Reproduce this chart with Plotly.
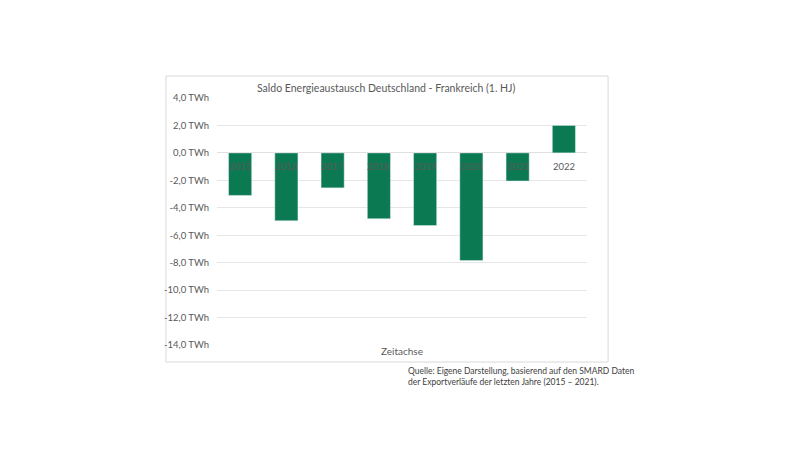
import plotly.graph_objects as go

# Data (TWh, first half-year)
years = ['2015', '2016', '2017', '2018', '2019', '2020', '2021', '2022']
saldo = [-3.1, -4.95, -2.55, -4.8, -5.3, -7.85, -2.05, 2.0]
tick_vals = [4, 2, 0, -2, -4, -6, -8, -10, -12, -14]
tick_text = [f"{v:.1f}".replace('.', ',') + " TWh" for v in tick_vals]

bar_color = '#0B7A52'
text_color = '#595959'
font_family = 'Lato, Open Sans, sans-serif'

fig = go.Figure()
fig.add_trace(go.Bar(x=years, y=saldo, marker_color=bar_color, width=0.5,
                     hoverinfo='x+y'))

# Year labels sit on the zero line, like an Excel category axis
# (numeric x = category index, so '2015' is not read as position 2015)
for i, yr in enumerate(years):
    fig.add_annotation(x=i, y=0, text=yr, showarrow=False, yanchor='top', yshift=-6,
                       font=dict(size=9.5, color=text_color, family=font_family))

fig.add_annotation(text='Saldo Energieaustausch Deutschland - Frankreich (1. HJ)',
                   xref='paper', yref='paper', x=0.457, y=1.04, yanchor='middle',
                   showarrow=False, font=dict(size=10.5, color=text_color, family=font_family))

fig.add_annotation(text='Quelle: Eigene Darstellung, basierend auf den SMARD Daten<br>'
                        'der Exportverläufe der letzten Jahre (2015 – 2021).',
                   xref='paper', yref='paper', x=0.510, y=-0.078, xanchor='left', yanchor='top',
                   align='left', showarrow=False,
                   font=dict(size=8.5, color='#404040', family=font_family))

# Chart frame
fig.add_shape(type='rect', xref='paper', yref='paper', x0=-0.138, x1=1.057, y0=-0.069, y1=1.089,
              line=dict(color='#D9D9D9', width=1), fillcolor='rgba(0,0,0,0)', layer='below')

# page body has an 8px margin, so shift the plot area up/left by 8px
fig.update_layout(
    width=800, height=450,
    margin=dict(l=209, r=221, t=90, b=113),
    paper_bgcolor='white', plot_bgcolor='white',
    showlegend=False,
    font=dict(family=font_family, color=text_color, size=10),
    bargap=0.5,
)
fig.update_xaxes(type='category', range=[-0.5, len(years) - 0.5], automargin=False,
                 showticklabels=False, showgrid=False, showline=False, zeroline=False,
                 title=dict(text='Zeitachse', standoff=2, font=dict(size=10, color=text_color)))
fig.update_yaxes(range=[-14, 4], tickvals=tick_vals, ticktext=tick_text, automargin=False,
                 showgrid=True, gridcolor='#E6E6E6', gridwidth=1,
                 zeroline=True, zerolinecolor='#E0E0E0', zerolinewidth=1,
                 showline=False, ticks='', ticklabelstandoff=7,
                 tickfont=dict(size=9.5, color=text_color))

fig.write_html("out.html")
